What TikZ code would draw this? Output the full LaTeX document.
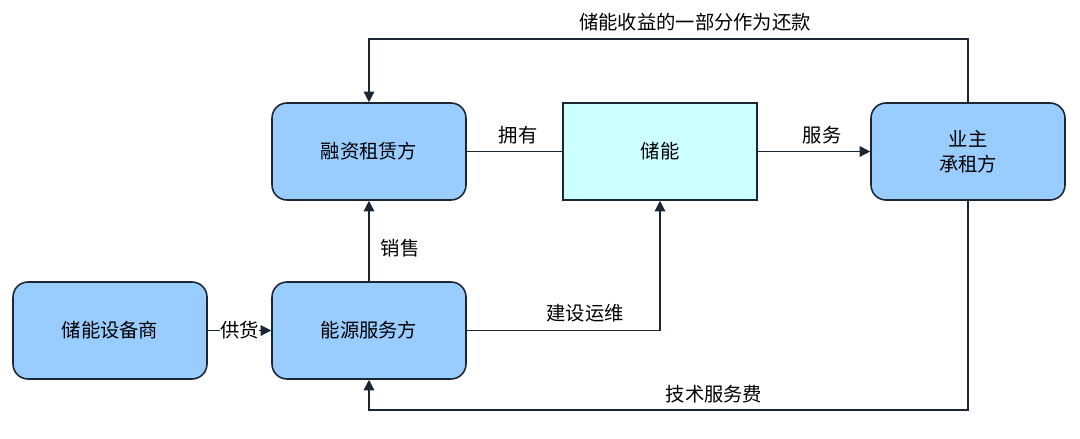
\documentclass[tikz,border=0pt]{standalone}
\usepackage{fontspec}
\setmainfont{Noto Sans CJK SC}
\usetikzlibrary{arrows.meta}
\definecolor{boxblue}{HTML}{99CCFF}
\definecolor{boxcyan}{HTML}{CCFFFF}
\definecolor{edge}{HTML}{1A2633}
\begin{document}
\begin{tikzpicture}[x=0.02cm,y=-0.02cm,
  rbox/.style={draw=edge,line width=0.9pt,fill=boxblue,rounded corners=0.3cm,minimum width=3.88cm,minimum height=1.94cm,inner sep=0pt,font=\fontsize{11}{14}\selectfont,align=center},
  sbox/.style={rbox,fill=boxcyan,rounded corners=0pt},
  conn/.style={draw=edge,line width=0.75pt},
  arr/.style={conn,-{Triangle[length=6pt,width=6pt]}},
  lbl/.style={font=\fontsize{11}{13}\selectfont,inner sep=1pt}]
\useasboundingbox (0,0) rectangle (1080,439);
\node[rbox] (sup) at (110,330.5) {储能设备商};
\node[rbox] (esp) at (369,330.5) {能源服务方};
\node[rbox] (fin) at (369,151.5) {融资租赁方};
\node[sbox] (st) at (660,151.5) {储能};
\node[rbox] (own) at (968,151.5) {业主\\承租方};
\coordinate (t1) at (968,39);
\coordinate (t2) at (369,39);
\coordinate (b1) at (968,410);
\coordinate (b2) at (369,410);
\coordinate (c1) at (660,330.5);
\draw[arr] (sup) -- node[lbl,fill=white,inner sep=0pt] {供货} (esp);
\draw[arr] (esp) -- (fin);
\draw[conn] (fin) -- (st);
\draw[arr] (st) -- (own);
\draw[arr] (own.north) -- (t1) -- (t2) -- (fin.north);
\draw[arr] (own.south) -- (b1) -- (b2) -- (esp.south);
\draw[arr] (esp.east) -- (c1) -- (st.south);
\node[lbl] (l1) at (518,135) {拥有};
\node[lbl] (l2) at (822,135) {服务};
\node[lbl] (l3) at (400,248) {销售};
\node[lbl] (l4) at (585,313) {建设运维};
\node[lbl] (l5) at (714,394) {技术服务费};
\node[lbl] (l6) at (695,22) {储能收益的一部分作为还款};
\end{tikzpicture}
\end{document}
